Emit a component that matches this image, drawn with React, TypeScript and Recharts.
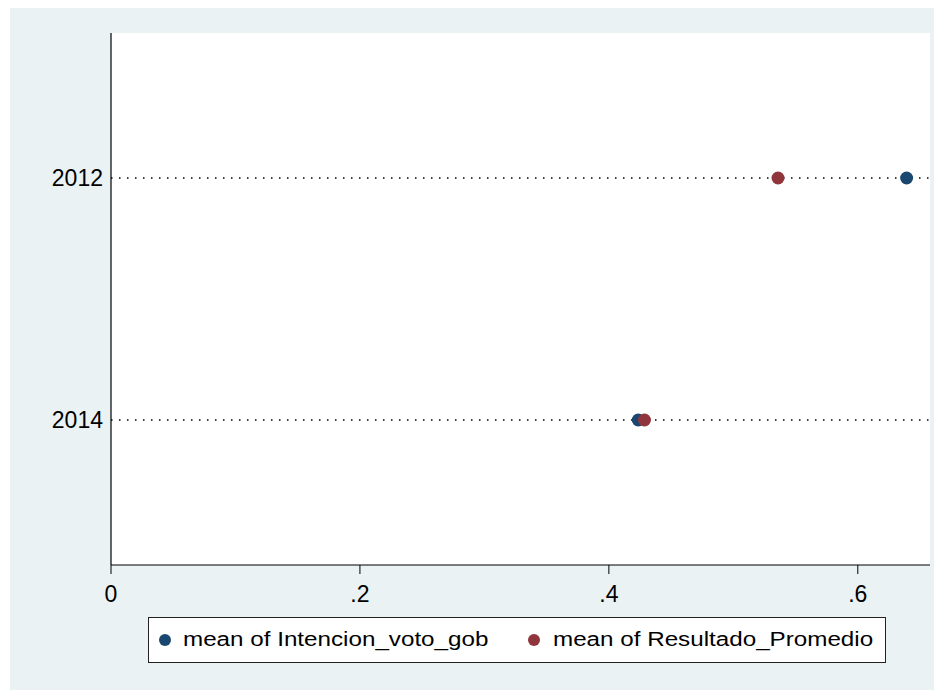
import { ScatterChart, Scatter, XAxis, YAxis, CartesianGrid } from 'recharts';

const years = ['2012', '2014'];
const intencionVoto = [0.6392, 0.4236];
const resultadoPromedio = [0.5359, 0.4286];
const xTicks = [0, 0.2, 0.4, 0.6];

const blue = '#1a476f';
const red = '#90353b';
const font = '"Liberation Sans", Arial, sans-serif';

const intencionData = years.map((y, i) => ({ idx: i, value: intencionVoto[i] }));
const resultadoData = years.map((y, i) => ({ idx: i, value: resultadoPromedio[i] }));

function formatX(v: number): string {
  if (v === 0) return '0';
  return String(Number(v.toFixed(1))).replace(/^0/, '');
}

const legendText = {
  position: 'absolute' as const,
  top: 9,
  lineHeight: '24px',
  whiteSpace: 'nowrap' as const,
  transform: 'scaleX(1.21)',
  transformOrigin: 'left center',
};

export default function App() {
  return (
    <div style={{ position: 'relative', width: 932, height: 682, marginLeft: 2, background: '#eaf2f3', fontFamily: font }}>
      <ScatterChart width={932} height={682} margin={{ top: 25, right: 12, left: 0, bottom: 0 }}>
        <CartesianGrid horizontal={false} vertical={false} fill="#ffffff" />
        <XAxis
          type="number"
          dataKey="value"
          domain={[0, 0.658]}
          ticks={xTicks}
          tickFormatter={formatX}
          height={125}
          tickSize={9}
          tickMargin={12}
          axisLine={{ stroke: '#000', strokeWidth: 1.2 }}
          tickLine={{ stroke: '#000', strokeWidth: 1 }}
          tick={{ fontSize: 23, fill: '#000', fontFamily: font }}
          allowDataOverflow
        />
        <YAxis
          type="number"
          dataKey="idx"
          domain={[-0.599, 1.599]}
          ticks={[0, 1]}
          reversed
          tickFormatter={(v: number) => years[v] ?? ''}
          width={101}
          tickSize={0}
          tickMargin={8}
          axisLine={{ stroke: '#000', strokeWidth: 1.2 }}
          tickLine={false}
          tick={{ fontSize: 23, fill: '#000', fontFamily: font }}
          allowDataOverflow
        />
        <CartesianGrid
          vertical={false}
          horizontalValues={[0, 1]}
          stroke="#000"
          strokeWidth={1.5}
          strokeDasharray="1.5 6.5"
          fill="none"
        />
        <Scatter data={intencionData} fill={blue} shape={(p: any) => <circle cx={p.cx} cy={p.cy} r={6.5} fill={blue} />} isAnimationActive={false} />
        <Scatter data={resultadoData} fill={red} shape={(p: any) => <circle cx={p.cx} cy={p.cy} r={6.5} fill={red} />} isAnimationActive={false} />
      </ScatterChart>
      <div
        style={{
          position: 'absolute',
          left: 138,
          top: 609,
          width: 736,
          height: 44,
          border: '1px solid #222',
          background: '#fff',
          fontSize: 20,
          color: '#000',
        }}
      >
        <span style={{ position: 'absolute', left: 10, top: 16, width: 12, height: 12, borderRadius: 6, background: blue }} />
        <span style={{ ...legendText, left: 34 }}>mean of Intencion_voto_gob</span>
        <span style={{ position: 'absolute', left: 379, top: 16, width: 12, height: 12, borderRadius: 6, background: red }} />
        <span style={{ ...legendText, left: 404 }}>mean of Resultado_Promedio</span>
      </div>
    </div>
  );
}
